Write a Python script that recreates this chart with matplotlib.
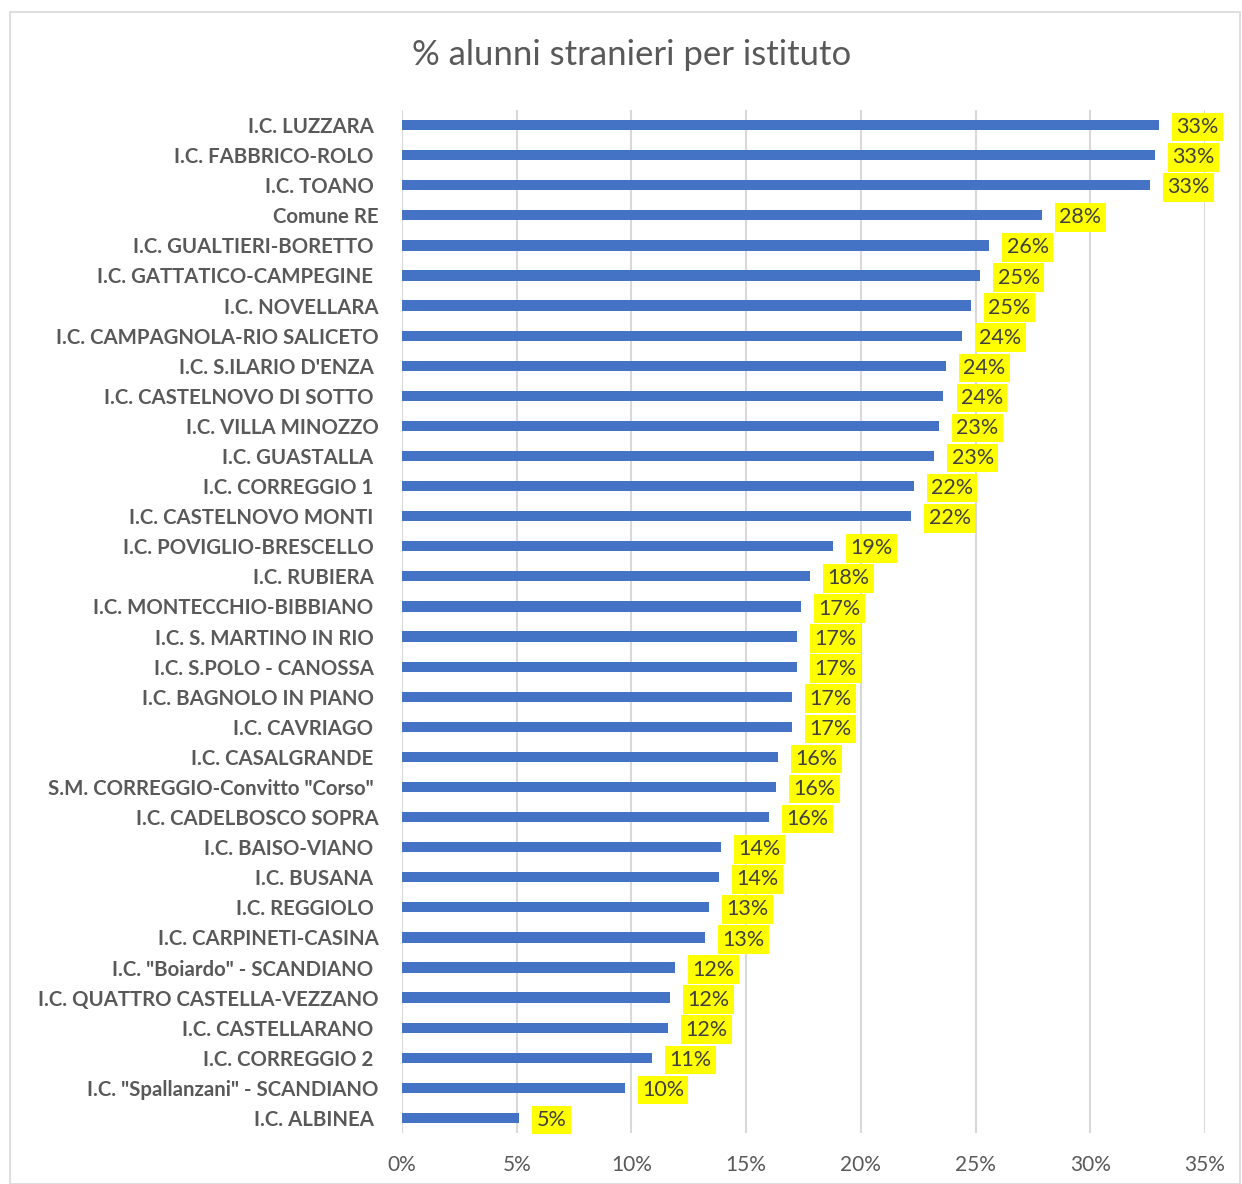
import matplotlib
matplotlib.use("Agg")
import matplotlib.pyplot as plt
from matplotlib.patches import Rectangle
from matplotlib.ticker import FuncFormatter

# category labels (trailing spaces kept as in the source chart)
schools = [
    "I.C. LUZZARA ", "I.C. FABBRICO-ROLO ", "I.C. TOANO ", "Comune RE",
    "I.C. GUALTIERI-BORETTO ", "I.C. GATTATICO-CAMPEGINE ", "I.C. NOVELLARA",
    "I.C. CAMPAGNOLA-RIO SALICETO", "I.C. S.ILARIO D'ENZA ",
    "I.C. CASTELNOVO DI SOTTO ", "I.C. VILLA MINOZZO", "I.C. GUASTALLA ",
    "I.C. CORREGGIO 1 ", "I.C. CASTELNOVO MONTI ", "I.C. POVIGLIO-BRESCELLO ",
    "I.C. RUBIERA ", "I.C. MONTECCHIO-BIBBIANO ", "I.C. S. MARTINO IN RIO ",
    "I.C. S.POLO - CANOSSA ", "I.C. BAGNOLO IN PIANO ", "I.C. CAVRIAGO ",
    "I.C. CASALGRANDE ", 'S.M. CORREGGIO-Convitto "Corso" ',
    "I.C. CADELBOSCO SOPRA", "I.C. BAISO-VIANO ", "I.C. BUSANA ",
    "I.C. REGGIOLO ", "I.C. CARPINETI-CASINA", 'I.C. "Boiardo" - SCANDIANO ',
    "I.C. QUATTRO CASTELLA-VEZZANO", "I.C. CASTELLARANO ", "I.C. CORREGGIO 2 ",
    'I.C. "Spallanzani" - SCANDIANO', "I.C. ALBINEA ",
]

# share of foreign pupils, %
shares = [
    33.0, 32.8, 32.6, 27.9, 25.6, 25.2, 24.8, 24.4, 23.7, 23.6, 23.4, 23.2,
    22.3, 22.2, 18.8, 17.8, 17.4, 17.2, 17.2, 17.0, 17.0, 16.4, 16.3, 16.0,
    13.9, 13.8, 13.4, 13.2, 11.9, 11.7, 11.6, 10.9, 9.7, 5.1,
]

x_ticks = [0, 5, 10, 15, 20, 25, 30, 35]

BAR = "#4472C4"
GRID = "#D9D9D9"
TXT = "#595959"

plt.rcParams["font.family"] = ["Lato", "DejaVu Sans"]

fig = plt.figure(figsize=(12.42, 11.84), dpi=100)
fig.patches.append(Rectangle((10 / 1242, 0), 1230 / 1242, 1 - 12 / 1184,
                             transform=fig.transFigure, fill=False,
                             edgecolor=GRID, linewidth=1.2))

ax = fig.add_axes([402 / 1242, 1 - 1133 / 1184, 803 / 1242, 1023 / 1184])
pos = list(range(len(schools)))
ax.barh(pos, shares, height=0.34, color=BAR, zorder=3)

for y, v in zip(pos, shares):
    ax.annotate(f"{v:.0f}%", (v, y), xytext=(12.5, -1.5), textcoords="offset points",
                ha="left", va="center", fontsize=15.5, color="#404040",
                bbox=dict(boxstyle="square,pad=0.2", facecolor="#FFFF00",
                          edgecolor="none"), zorder=4)

ax.set_xlim(0, 35)
ax.set_ylim(len(schools) - 0.5, -0.5)
ax.set_xticks(x_ticks)
ax.xaxis.set_major_formatter(FuncFormatter(lambda v, _: f"{v:.0f}%"))
ax.set_yticks(pos)
ax.set_yticklabels(schools, fontsize=14.7, fontweight="bold", color=TXT)
ax.tick_params(axis="x", length=0, labelsize=15, labelcolor=TXT, pad=16)
ax.tick_params(axis="y", length=0, pad=17)
ax.grid(axis="x", color=GRID, linewidth=1.5, zorder=0)
for s in ax.spines.values():
    s.set_visible(False)

fig.text(632 / 1242, 1 - 55 / 1184, "% alunni stranieri per istituto",
         ha="center", va="center", fontsize=25, color=TXT)

fig.savefig("out.png", dpi=100)
